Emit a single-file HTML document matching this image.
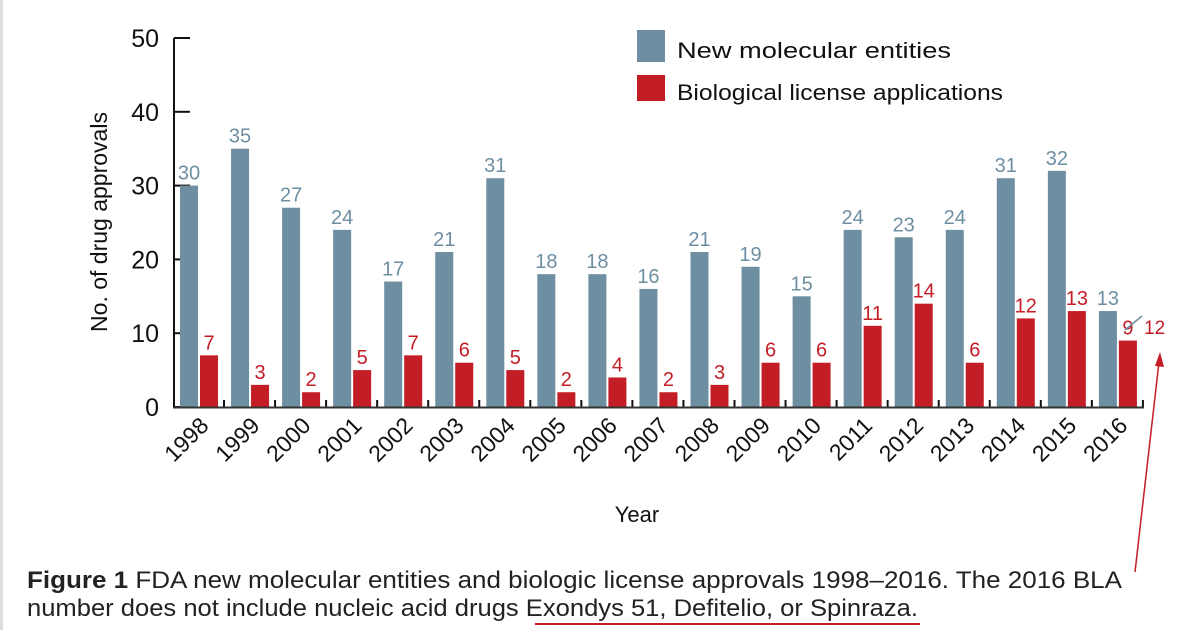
<!DOCTYPE html>
<html><head><meta charset="utf-8"><style>
html,body{margin:0;padding:0;background:#fff;}
svg{display:block;font-family:"Liberation Sans",sans-serif;}
</style></head><body>
<svg id="chart" width="1200" height="630" viewBox="0 0 1200 630">
<rect x="0" y="0" width="3" height="630" fill="#ddd"/>
<g id="yaxis"></g>
<g id="bars"></g>
<g id="xaxis"></g>
<text x="107" y="222" font-size="23" text-anchor="middle" transform="rotate(-90 107 222)" fill="#111">No. of drug approvals</text>
<text x="637" y="522" font-size="22" text-anchor="middle" fill="#111">Year</text>
<g>
<rect x="637" y="30" width="28" height="32" fill="#6e8fa2"/>
<text x="677" y="58" font-size="22" textLength="274" lengthAdjust="spacingAndGlyphs" fill="#111">New molecular entities</text>
<rect x="637" y="75" width="28" height="26" fill="#c31d26"/>
<text x="677" y="100" font-size="22" textLength="326" lengthAdjust="spacingAndGlyphs" fill="#111">Biological license applications</text>
</g>
<line x1="1125" y1="330" x2="1142" y2="316" stroke="#6e8fa2" stroke-width="1.5"/>
<text x="1144" y="334" font-size="19" fill="#c31d26">12</text>
<line x1="1135" y1="572" x2="1159" y2="362" stroke="#c31d26" stroke-width="1.5"/>
<polygon points="1160,352 1155,366 1164,367" fill="#c31d26"/>
<g font-family="'Liberation Sans Narrow','Liberation Sans',sans-serif" font-size="24" fill="#222">
<text x="27" y="588" textLength="1095" lengthAdjust="spacingAndGlyphs"><tspan font-weight="bold">Figure 1</tspan>  FDA new molecular entities and biologic license approvals 1998–2016. The 2016 BLA</text>
<text x="27" y="616" textLength="891" lengthAdjust="spacingAndGlyphs">number does not include nucleic acid drugs Exondys 51, Defitelio, or Spinraza.</text>
</g>
<line x1="535" y1="624" x2="920" y2="624" stroke="#c31d26" stroke-width="2"/>
</svg>
<script>
const years=["1998","1999","2000","2001","2002","2003","2004","2005","2006","2007","2008","2009","2010","2011","2012","2013","2014","2015","2016"];
const nme=[30,35,27,24,17,21,31,18,18,16,21,19,15,24,23,24,31,32,13];
const bla=[7,3,2,5,7,6,5,2,4,2,3,6,6,11,14,6,12,13,9];
const yTicks=[0,10,20,30,40,50];
const NS="http://www.w3.org/2000/svg";
function yS(v){return 407-v*7.38;}
function xS(i){return 180+i*51.05;}
function mk(tag,attrs,parent,text){const e=document.createElementNS(NS,tag);for(const k in attrs)e.setAttribute(k,attrs[k]);if(text!==undefined)e.textContent=text;parent.appendChild(e);return e;}
const ya=document.getElementById('yaxis'),ba=document.getElementById('bars'),xa=document.getElementById('xaxis');
let ax=mk('line',{x1:174,y1:yS(50),x2:174,y2:408,stroke:'#111','stroke-width':2},ya);


yTicks.forEach(t=>{
 let l=mk('line',{x1:174,y1:yS(t),x2:190,y2:yS(t),stroke:'#111','stroke-width':2},ya);
 
 
 let tx=mk('text',{x:159,y:yS(t)+9,'font-size':25,'text-anchor':'end',fill:'#111'},ya,String(t));
 
 
});
years.forEach((y,i)=>{
 const x=xS(i);
 let b=mk('rect',{x:x,y:yS(nme[i]),width:18,height:yS(0)-yS(nme[i]),fill:'#6e8fa2'},ba);
 
 
 let r=mk('rect',{x:x+20,y:yS(bla[i]),width:18,height:yS(0)-yS(bla[i]),fill:'#c31d26'},ba);
 
 
 let t1=mk('text',{x:x+9,y:yS(nme[i])-6,'font-size':20,'text-anchor':'middle',fill:'#6e8fa2'},ba,String(nme[i]));
 
 
 let t2=mk('text',{x:x+29,y:yS(bla[i])-6,'font-size':20,'text-anchor':'middle',fill:'#c31d26'},ba,String(bla[i]));
 
 
 let tk=mk('line',{x1:x+44,y1:400,x2:x+44,y2:408,stroke:'#111','stroke-width':2},xa);
 
 
 const lx=x+30,ly=427;
 let yl=mk('text',{x:lx,y:ly,'font-size':23,'text-anchor':'end',fill:'#111',transform:`rotate(-45 ${lx} ${ly})`},xa,y);
 
 
});
let xl=mk('line',{x1:173,y1:407.5,x2:xS(years.length-1)+45,y2:407.5,stroke:'#333','stroke-width':2},xa);


</script>
</body></html>
